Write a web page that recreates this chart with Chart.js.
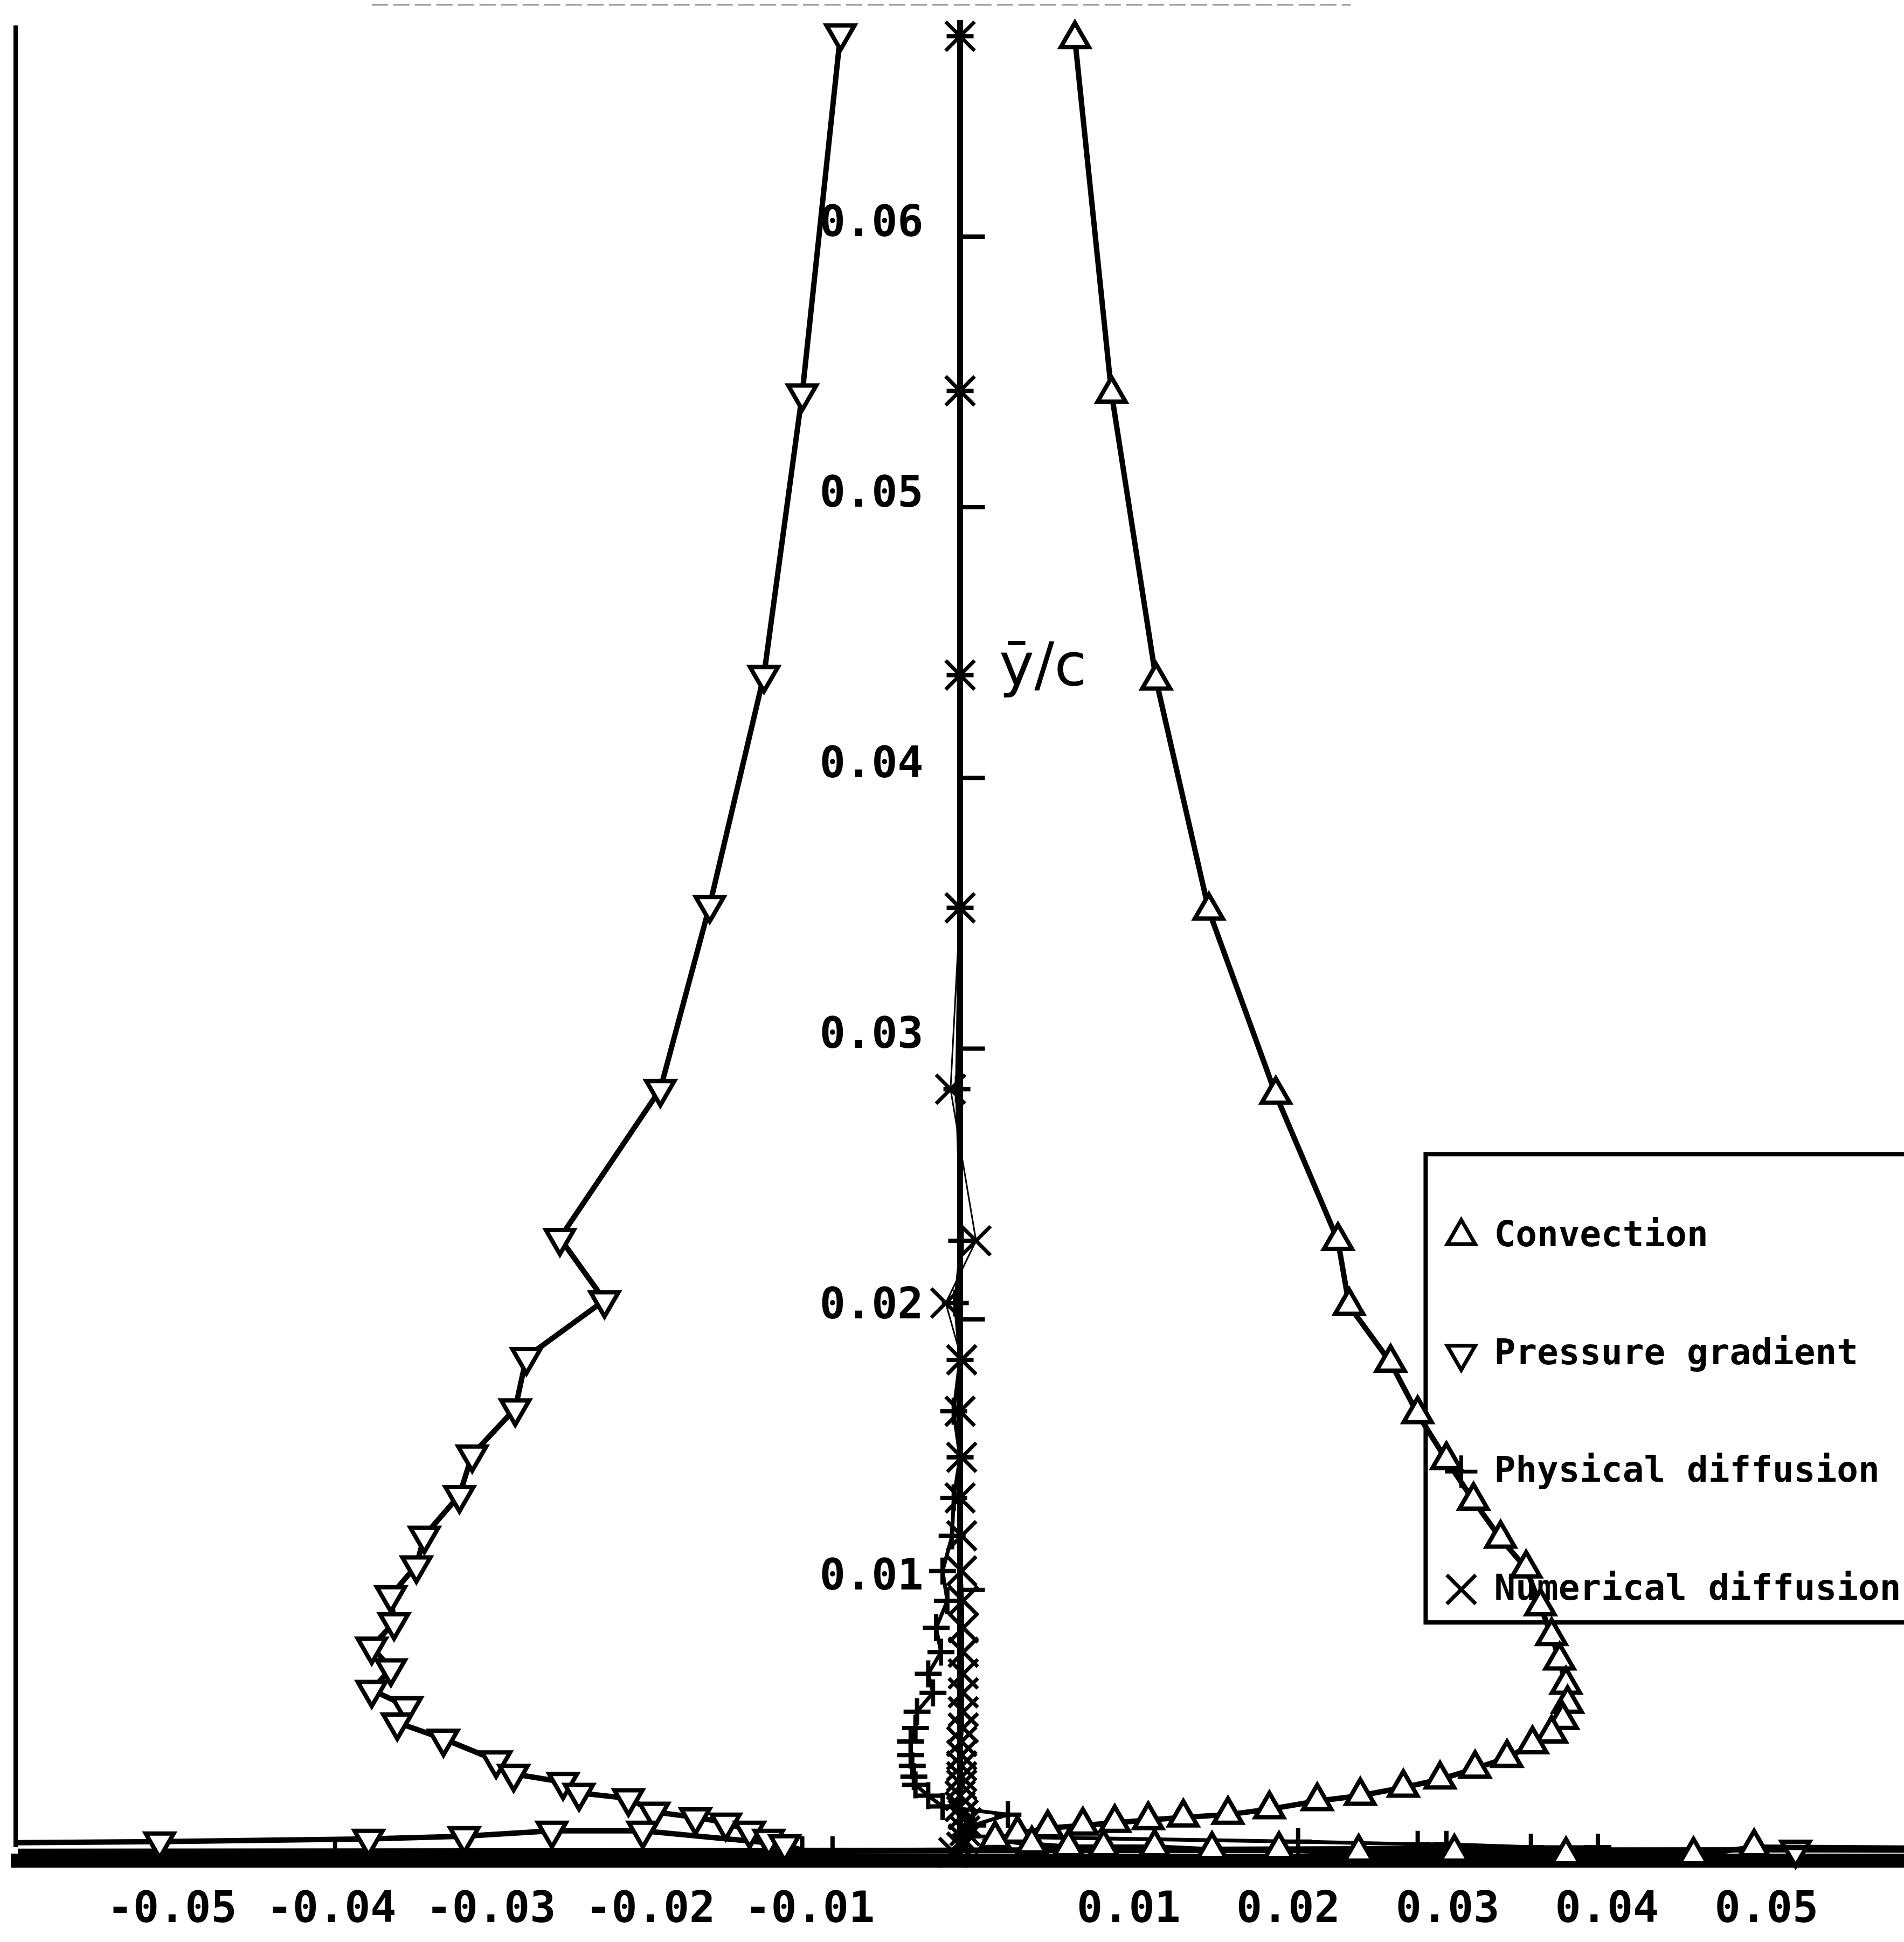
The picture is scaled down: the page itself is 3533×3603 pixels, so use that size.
<!DOCTYPE html>
<html>
<head>
<meta charset="utf-8">
<script src="https://cdn.jsdelivr.net/npm/chart.js@4.4.1/dist/chart.umd.min.js"></script>
<style>
  html, body { margin: 0; padding: 0; background: #fff; }
  #wrap { width: 3533px; height: 3603px; position: relative; }
</style>
</head>
<body>
<div id="wrap"><canvas id="chart"></canvas></div>
<script>
// values (x = term magnitude, y = ȳ/c)
const seriesLabels = ['Convection', 'Pressure gradient', 'Physical diffusion', 'Numerical diffusion'];

const convectionX = [0.0072, 0.0095, 0.0123, 0.0156, 0.0198, 0.0237, 0.0244, 0.0270, 0.0287, 0.0305,
  0.0322, 0.0339, 0.0355, 0.0364, 0.0371, 0.0376, 0.0380, 0.0381, 0.0378, 0.0371,
  0.0359, 0.0343, 0.0323, 0.0301, 0.0278, 0.0251, 0.0224, 0.0194, 0.0168, 0.0140,
  0.0118, 0.0097, 0.0077, 0.0055, 0.0036, 0.0022, 0.0045, 0.0068, 0.0090, 0.0122,
  0.0158, 0.0200, 0.0250, 0.0310, 0.0380, 0.0460, 0.0498, 0.1500];
const convectionY = [0.0673, 0.0542, 0.0436, 0.0351, 0.0283, 0.0229, 0.0205, 0.0184, 0.0165, 0.0148,
  0.0133, 0.0119, 0.0108, 0.0094, 0.0083, 0.0074, 0.0065, 0.0058, 0.0052, 0.0047,
  0.0043, 0.0038, 0.0034, 0.0030, 0.0027, 0.0024, 0.0022, 0.0019, 0.0017, 0.0016,
  0.0015, 0.0014, 0.0013, 0.0012, 0.0010, 0.0008, 0.0006, 0.0005, 0.0005, 0.0005,
  0.0004, 0.0004, 0.0003, 0.0003, 0.0002, 0.0002, 0.0005, 0.0001];

const pressureX = [-0.0075, -0.0099, -0.0123, -0.0157, -0.0188, -0.0251, -0.0223, -0.0272, -0.0279, -0.0306,
  -0.0314, -0.0336, -0.0341, -0.0357, -0.0355, -0.0369, -0.0357, -0.0369, -0.0347, -0.0353,
  -0.0324, -0.0291, -0.0280, -0.0249, -0.0239, -0.0208, -0.0192, -0.0166, -0.0147, -0.0132,
  -0.0120, -0.0110, -0.0199, -0.0256, -0.0311, -0.0371, -0.0502, -0.1500, 0.0524, 0.1500];
const pressureY = [0.0675, 0.0542, 0.0438, 0.0353, 0.0285, 0.0230, 0.0207, 0.0186, 0.0167, 0.0150,
  0.0135, 0.0120, 0.0109, 0.0098, 0.0088, 0.0079, 0.0071, 0.0063, 0.0057, 0.0051,
  0.0045, 0.0037, 0.0032, 0.0029, 0.0025, 0.0023, 0.0018, 0.0016, 0.0014, 0.0011,
  0.0008, 0.0006, 0.0011, 0.0011, 0.0009, 0.0008, 0.0007, 0.0003, 0.0004, 0.0002];

const physicalX = [0.0000, 0.0000, 0.0000, 0.0000, -0.0002, 0.0001, -0.0003, 0.0000, -0.0004, 0.0000,
  -0.0004, -0.0005, -0.0011, -0.0008, -0.0015, -0.0012, -0.0020, -0.0017, -0.0027, -0.0028,
  -0.0031, -0.0031, -0.0030, -0.0029, -0.0028, -0.0020, -0.0011, 0.0030, 0.0008, 0.0004,
  0.0212, 0.0287, 0.0305, 0.0358, 0.0400, -0.0080, -0.0099, -0.0392, -0.1500];
const physicalY = [0.0674, 0.0543, 0.0438, 0.0352, 0.0285, 0.0229, 0.0206, 0.0185, 0.0166, 0.0149,
  0.0134, 0.0120, 0.0107, 0.0096, 0.0086, 0.0077, 0.0069, 0.0062, 0.0055, 0.0049,
  0.0044, 0.0039, 0.0035, 0.0031, 0.0028, 0.0024, 0.0020, 0.0017, 0.0013, 0.0009,
  0.0007, 0.0006, 0.0006, 0.0005, 0.0005, 0.0004, 0.0004, 0.0003, 0.0002];

const numericalX = [0.0000, 0.0000, 0.0000, 0.0000, -0.0006, 0.0010, -0.0009, 0.0001, 0.0000, 0.0001,
  0.0000, 0.0001, 0.0001, 0.0002, 0.0002, 0.0002, 0.0002, 0.0002, 0.0002, 0.0002,
  0.0001, 0.0001, 0.0001, 0.0001, 0.0001, 0.0000, 0.0000, 0.0002, 0.0004, 0.0003,
  0.0002, 0.0001, -0.0004, -0.1500];
const numericalY = [0.0674, 0.0543, 0.0438, 0.0352, 0.0285, 0.0229, 0.0206, 0.0185, 0.0166, 0.0149,
  0.0134, 0.0120, 0.0107, 0.0096, 0.0086, 0.0077, 0.0069, 0.0062, 0.0055, 0.0049,
  0.0044, 0.0039, 0.0035, 0.0031, 0.0028, 0.0024, 0.0020, 0.0017, 0.0014, 0.0011,
  0.0008, 0.0005, 0.0003, 0.0001];

const xTickValues = [-0.05, -0.04, -0.03, -0.02, -0.01, 0.01, 0.02, 0.03, 0.04, 0.05];
const yTickValues = [0.01, 0.02, 0.03, 0.04, 0.05, 0.06];
const yAxisTitle = 'ȳ/c';

const tickFont = {family: 'DejaVu Sans Mono', size: 80, weight: 'bold'};

function toPoints(xs, ys) {
  return xs.map((x, i) => ({x: x, y: ys[i]}));
}

function series(label, xs, ys, style) {
  return Object.assign({
    label: label,
    data: toPoints(xs, ys),
    showLine: true,
    borderColor: '#000',
    backgroundColor: '#fff',
    pointBorderColor: '#000',
    pointBackgroundColor: '#fff',
    clip: {left: 0, top: 10, right: 10, bottom: 24}
  }, style);
}

const datasets = [
  series(seriesLabels[0], convectionX, convectionY,
    {borderWidth: 10, pointStyle: 'triangle', pointRadius: 30, pointBorderWidth: 8}),
  series(seriesLabels[1], pressureX, pressureY,
    {borderWidth: 10, pointStyle: 'triangle', pointRotation: 180, pointRadius: 30, pointBorderWidth: 8}),
  series(seriesLabels[2], physicalX, physicalY,
    {borderWidth: 7, pointStyle: 'cross', pointRadius: 25, pointBorderWidth: 8}),
  series(seriesLabels[3], numericalX, numericalY,
    {borderWidth: 3, pointStyle: 'crossRot', pointRadius: 38, pointBorderWidth: 7})
];

// legend box position in axis units, rows spread inside it
const legendBox = {left: 0.0292, top: 0.0261, bottom: 0.0088};

function noPadding(s) {
  s.paddingTop = 0; s.paddingBottom = 0; s.paddingLeft = 0; s.paddingRight = 0;
}

const decor = {
  id: 'decor',
  beforeDatasetsDraw(chart) {
    const {ctx, chartArea, scales: {x, y}} = chart;
    ctx.save();
    // centre axis line (labels sit on a scale offset to its left)
    const x0 = x.getPixelForValue(0);
    ctx.strokeStyle = '#000';
    ctx.lineWidth = 11;
    ctx.beginPath();
    ctx.moveTo(x0, chartArea.top + 30);
    ctx.lineTo(x0, chartArea.bottom);
    ctx.stroke();
    // legend frame and entries
    const lx = x.getPixelForValue(legendBox.left);
    const ty = y.getPixelForValue(legendBox.top);
    const by = y.getPixelForValue(legendBox.bottom);
    ctx.lineWidth = 8;
    ctx.strokeRect(lx, ty, chart.width + 20 - lx, by - ty);
    ctx.font = 'bold 66px "DejaVu Sans Mono"';
    ctx.textBaseline = 'middle';
    ctx.textAlign = 'left';
    chart.data.datasets.forEach((ds, i) => {
      const ry = ty + (by - ty) * (0.175 + i * 0.2515);
      ctx.fillStyle = '#fff';
      ctx.strokeStyle = '#000';
      ctx.lineWidth = 7;
      Chart.helpers.drawPoint(ctx, {
        pointStyle: ds.pointStyle,
        rotation: ds.pointRotation || 0,
        radius: ds.pointStyle === 'crossRot' ? 38 : 30,
        borderWidth: 7
      }, lx + 66, ry);
      ctx.fillStyle = '#000';
      ctx.fillText(ds.label, lx + 127, ry + 2);
    });
    ctx.restore();
  },
  afterDraw(chart) {
    const {ctx, chartArea, scales: {x, y}} = chart;
    ctx.save();
    ctx.strokeStyle = '#000';
    // left frame line
    ctx.lineWidth = 8;
    ctx.beginPath();
    ctx.moveTo(chartArea.left - 4, y.getPixelForValue(0.0678));
    ctx.lineTo(chartArea.left - 4, y.getPixelForValue(0.0005));
    ctx.stroke();
    // faint top edge
    ctx.strokeStyle = '#999';
    ctx.lineWidth = 3;
    ctx.setLineDash([30, 10]);
    ctx.beginPath();
    ctx.moveTo(x.getPixelForValue(-0.0369), chartArea.top + 2);
    ctx.lineTo(x.getPixelForValue(0.0245), chartArea.top + 2);
    ctx.stroke();
    ctx.setLineDash([]);
    // y tick marks point to the right of the axis
    const x0 = x.getPixelForValue(0);
    ctx.strokeStyle = '#000';
    ctx.lineWidth = 8;
    yTickValues.forEach(v => {
      const py = y.getPixelForValue(v);
      ctx.beginPath();
      ctx.moveTo(x0, py);
      ctx.lineTo(x0 + 46, py);
      ctx.stroke();
    });
    // axis title next to the axis
    ctx.fillStyle = '#000';
    ctx.font = '110px "DejaVu Sans"';
    ctx.textAlign = 'center';
    ctx.textBaseline = 'middle';
    ctx.fillText(yAxisTitle, x.getPixelForValue(0.0052), y.getPixelForValue(0.0440));
    ctx.restore();
  }
};

new Chart(document.getElementById('chart'), {
  type: 'scatter',
  data: {datasets: datasets},
  options: {
    responsive: true,
    maintainAspectRatio: false,
    animation: false,
    devicePixelRatio: 1,
    layout: {autoPadding: false, padding: {left: 33, right: 0, top: 7, bottom: 0}},
    plugins: {legend: {display: false}, tooltip: {enabled: false}},
    scales: {
      x: {
        type: 'linear',
        position: 'bottom',
        min: -0.0591,
        max: 0.0592,
        grid: {display: false, drawTicks: false},
        border: {display: true, color: '#000', width: 26},
        afterBuildTicks: s => { s.ticks = xTickValues.map(v => ({value: v})); },
        afterFit: s => { noPadding(s); s.height = 151; },
        ticks: {
          color: '#000', font: tickFont, padding: 45, labelOffset: 17,
          autoSkip: false, maxRotation: 0,
          callback: v => v.toFixed(2)
        }
      },
      y: {
        type: 'linear',
        position: {x: -0.0023},
        min: 0,
        max: 0.0686,
        grid: {display: false, drawTicks: false},
        border: {display: false},
        afterBuildTicks: s => { s.ticks = yTickValues.map(v => ({value: v})); },
        afterFit: noPadding,
        ticks: {
          color: '#000', font: tickFont, labelOffset: -22,
          autoSkip: false,
          callback: v => v.toFixed(2)
        }
      }
    }
  },
  plugins: [decor]
});
</script>
</body>
</html>
